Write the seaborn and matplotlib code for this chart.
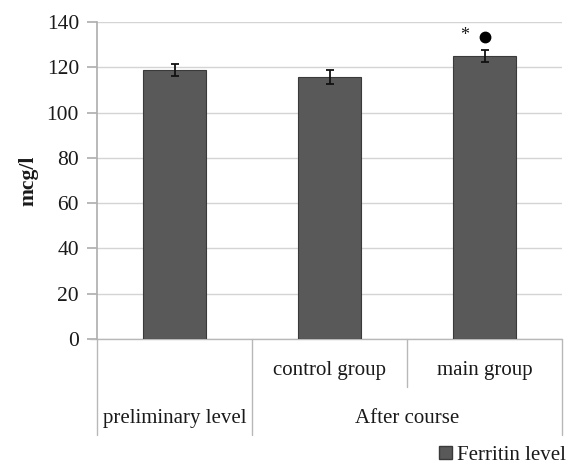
import numpy as np
import pandas as pd
import matplotlib
matplotlib.use("Agg")
import matplotlib.pyplot as plt
import matplotlib.patches as mpatches
import seaborn as sns

# Data
groups = ["preliminary level", "control group", "main group"]
ferritin = [118.8, 115.7, 125.0]
errors = [2.8, 3.0, 2.8]
sub_labels = ["", "control group", "main group"]
top_labels = ["preliminary level", "After course"]

df = pd.DataFrame({"group": groups, "value": ferritin})

sns.set_theme(style="white")
plt.rcParams["font.family"] = ["Liberation Serif", "DejaVu Sans"]

fig = plt.figure(figsize=(5.66, 4.73), dpi=100)
ax = fig.add_axes([0.1714, 0.2833, 0.8216, 0.6702])

txt_color = "#1a1a1a"
bar_color = "#595959"
sns.barplot(data=df, x="group", y="value", color=bar_color, width=0.41,
            edgecolor="#3a3a3a", linewidth=0.8, saturation=1, ax=ax, zorder=3)
ax.errorbar(np.arange(len(groups)), ferritin, yerr=errors, fmt="none",
            ecolor="#111111", elinewidth=1.3, capsize=3, capthick=1.3, zorder=4)

ax.set_ylim(0, 140)
ax.set_xlim(-0.5, 2.5)
ax.set_yticks(range(0, 141, 20))
ax.yaxis.grid(True, color="#d4d4d4", linewidth=1, zorder=0)
ax.set_axisbelow(True)
for s in ["top", "right", "bottom"]:
    ax.spines[s].set_visible(False)
ax.spines["left"].set_color("#b0b0b0")
ax.tick_params(axis="y", length=7, color="#b0b0b0", labelsize=15.5, pad=6,
               labelcolor=txt_color, left=True)
ax.set_xticks([])
ax.set_xlabel("")
ax.set_ylabel("mcg/l", fontsize=15.5, fontweight="bold", labelpad=6, color=txt_color)

# significance marks over the main group bar
ax.text(1.87, 134.0, "*", ha="center", va="center", fontsize=13, color=txt_color)
ax.plot([2.0], [133.3], "o", color="black", markersize=7.5, clip_on=False)

# category table under the axis
line_kw = dict(color="#b8b8b8", linewidth=1, clip_on=False, transform=ax.transAxes)
ax.plot([-0.015, 1], [0, 0], **line_kw)
for xv, bottom in [(0, -0.303), (1 / 3, -0.303), (2 / 3, -0.151), (1, -0.303)]:
    ax.plot([xv, xv], [0, bottom], **line_kw)

for i, lab in enumerate(sub_labels):
    if lab:
        ax.text((i + 0.5) / 3, -0.098, lab, transform=ax.transAxes,
                ha="center", va="center", fontsize=15, color=txt_color)
ax.text(1 / 6, -0.252, top_labels[0], transform=ax.transAxes,
        ha="center", va="center", fontsize=15, color=txt_color)
ax.text(2 / 3, -0.252, top_labels[1], transform=ax.transAxes,
        ha="center", va="center", fontsize=15, color=txt_color)

handle = mpatches.Patch(facecolor=bar_color, edgecolor="#3a3a3a", label="Ferritin level")
fig.legend(handles=[handle], loc="lower right", bbox_to_anchor=(1.018, -0.005),
           frameon=False, fontsize=15, handlelength=0.6, handleheight=0.6,
           handletextpad=0.25, borderaxespad=0.1, labelcolor=txt_color)

fig.savefig("out.png", dpi=100, facecolor="white")
